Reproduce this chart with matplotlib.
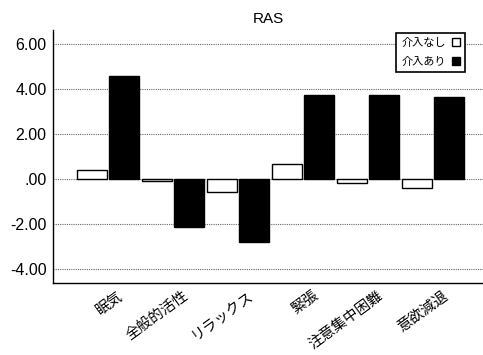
import matplotlib
matplotlib.use('Agg')
import matplotlib.pyplot as plt
import numpy as np

plt.rcParams['font.family'] = ['Noto Sans CJK JP', 'DejaVu Sans']

# データ
categories = ['眠気', '全般的活性', 'リラックス', '緊張', '注意集中困難', '意欲減退']
no_intervention = [0.37, -0.10, -0.57, 0.67, -0.17, -0.41]
with_intervention = [4.58, -2.13, -2.79, 3.73, 3.70, 3.61]
series_labels = ['介入なし', '介入あり']
yticks = [-4, -2, 0, 2, 4, 6]
ytick_labels = ['-4.00', '-2.00', '.00', '2.00', '4.00', '6.00']

fig = plt.figure(figsize=(4.83, 3.55), dpi=100)
ax = fig.add_axes([0.1097, 0.2028, 0.8903, 0.7127])

x = np.arange(len(categories))
w = 0.46
ax.bar(x - w / 2 - 0.02, no_intervention, w, color='white', edgecolor='black',
       linewidth=1.0, label=series_labels[0], zorder=3)
ax.bar(x + w / 2 + 0.02, with_intervention, w, color='black', edgecolor='black',
       linewidth=1.0, label=series_labels[1], zorder=3)

ax.set_ylim(-4.62, 6.6)
ax.set_xlim(-0.846, 5.77)
ax.set_yticks(yticks)
ax.set_yticklabels(ytick_labels, fontsize=11.5, family='Liberation Sans')
ax.yaxis.grid(True, color='#666666', linestyle=(0, (1, 1)), linewidth=0.8, zorder=0)
ax.tick_params(axis='y', length=0, pad=4.5)
ax.tick_params(axis='x', length=0, pad=4)

ax.set_xticks(x + 0.15)
ax.set_xticklabels(categories, fontsize=10.5, rotation=36, ha='right',
                   rotation_mode='anchor')

for s in ['top', 'right']:
    ax.spines[s].set_visible(False)
ax.spines['left'].set_linewidth(1.0)
ax.spines['bottom'].set_linewidth(1.0)

ax.set_title('RAS', fontsize=11, pad=5, family='Liberation Sans')

leg = ax.legend(loc='upper right', bbox_to_anchor=(0.972, 1.012), markerfirst=False,
                fontsize=8, frameon=True, fancybox=False, handlelength=0.75,
                handleheight=0.75, handletextpad=0.5, borderpad=0.5,
                labelspacing=0.75)
leg.get_frame().set_edgecolor('black')
leg.get_frame().set_linewidth(1.2)
leg.get_frame().set_alpha(1)

fig.savefig('out.png', dpi=100)
